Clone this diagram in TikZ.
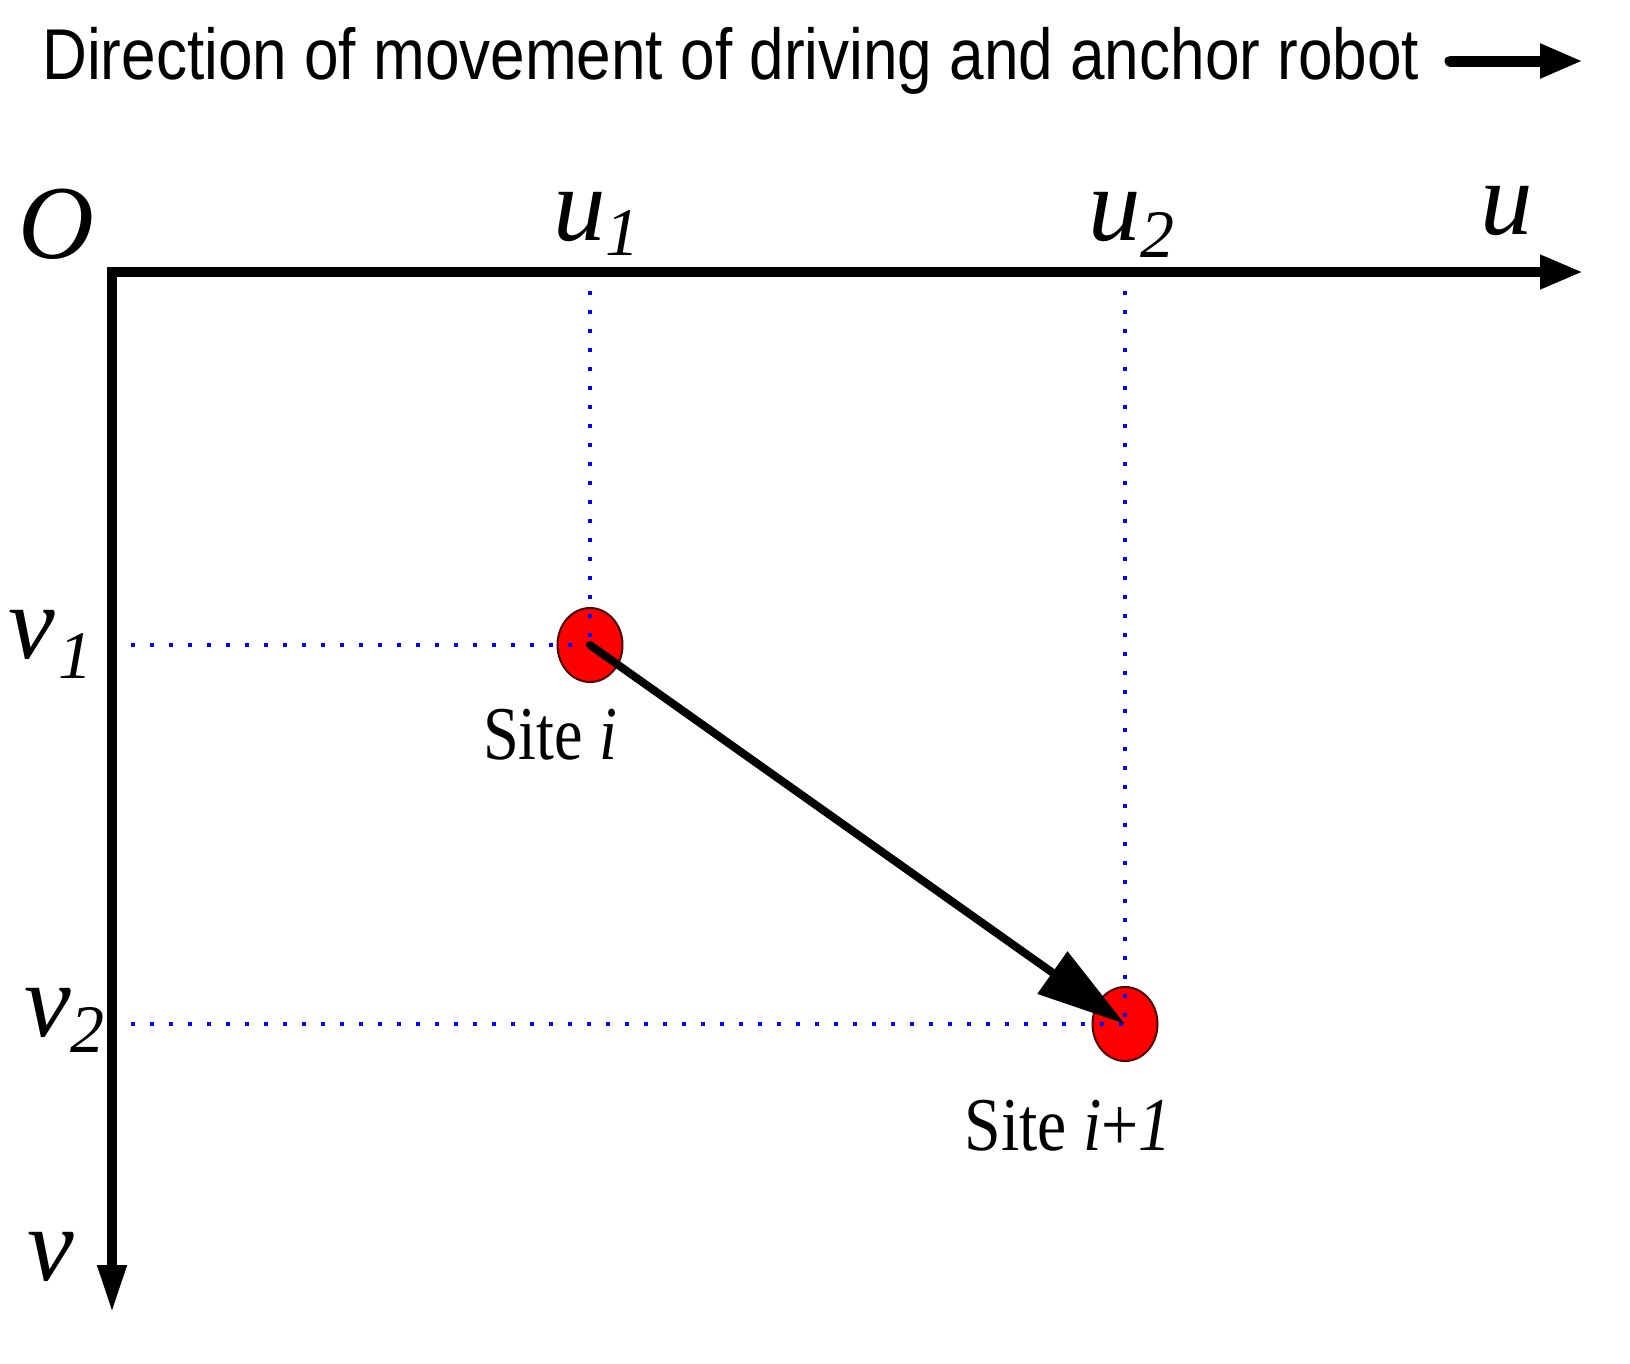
\documentclass[tikz,border=0pt]{standalone}
\usepackage{fontspec}
\setmainfont{Liberation Serif}
\newfontfamily\titlefont{Liberation Sans}
\usetikzlibrary{arrows.meta,shapes.geometric}
\begin{document}
\begin{tikzpicture}[x=1pt,y=-1pt,
  lab/.style={inner sep=0pt, anchor=base west, font=\fontsize{105}{105}\selectfont\itshape},
  sublab/.style={inner sep=0pt, anchor=base west, font=\fontsize{68}{68}\selectfont\itshape},
  guide/.style={blue, line width=3.5pt, dash pattern=on 3.5pt off 15.5pt},
  site/.style={ellipse, draw=black!70!red, line width=2pt, fill=red, minimum width=65pt, minimum height=74pt, inner sep=0pt},
  sitelab/.style={inner sep=0pt, anchor=base, font=\fontsize{76}{76}\selectfont}
]
\useasboundingbox (0,0) rectangle (1630,1363);

% title
\node[inner sep=0pt, anchor=base west] (title) at (42,79)
  {\titlefont\fontsize{72}{72}\selectfont\resizebox{1377pt}{\height}{Direction of movement of driving and anchor robot}};
\coordinate (ta) at (1450,61);
\coordinate (tb) at (1583,61);
\draw[line width=11pt, line cap=round, -{Triangle[length=43pt,width=32pt]}] (ta) -- (tb);

% axes
\coordinate (O) at (112,272);
\coordinate (uend) at (1583,272);
\coordinate (vend) at (112,1313);

% sites
\node[site] (s1) at (590,645) {};
\node[site] (s2) at (1125,1024) {};

% guides
\draw[guide] (O -| s1.center) -- (s1.center);
\draw[guide] (O |- s1.center) -- (s1.center);
\draw[guide] (O -| s2.center) -- (s2.center);
\draw[guide] (O |- s2.center) -- (s2.center);

\draw[line width=10pt, line join=miter,
  {Triangle[length=48pt,width=27pt]}-{Triangle[length=43pt,width=32pt]}]
  (vend) -- (O) -- (uend);

% movement arrow
\draw[line width=8pt, line cap=round, -{Triangle[length=89pt,width=50pt]}] (s1.center) -- (s2.center);

% labels
\node[lab] (lO) at (18,258) {O};
\node[lab] (lu1) at (553,240) {u};
\node[sublab] (lu1s) at (605,255) {1};
\node[lab] (lu2) at (1088,240) {u};
\node[sublab] (lu2s) at (1140,257) {2};
\node[lab] (lu) at (1480,234) {u};
\node[lab] (lv1) at (8,658) {v};
\node[sublab] (lv1s) at (58,678) {1};
\node[lab] (lv2) at (24,1036) {v};
\node[sublab] (lv2s) at (70,1052) {2};
\node[lab] (lv) at (27,1280) {v};

\node[sitelab] (t1) at (550,759) {\resizebox{134pt}{\height}{Site \textit{i}}};
\node[sitelab] (t2) at (1068,1150) {\resizebox{207pt}{\height}{Site \textit{i}+\textit{1}}};
\end{tikzpicture}
\end{document}
